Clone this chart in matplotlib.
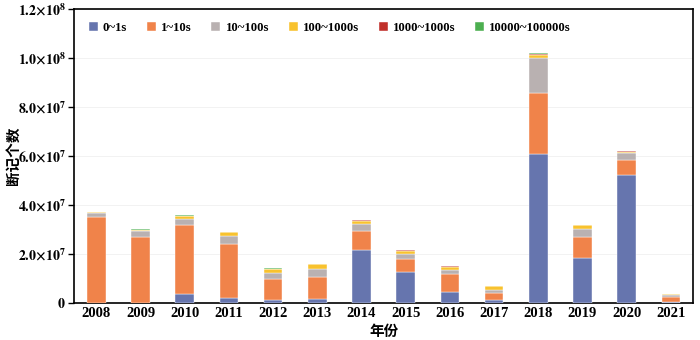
import numpy as np
import matplotlib
matplotlib.use('Agg')
import matplotlib.pyplot as plt
from matplotlib.ticker import FuncFormatter

plt.rcParams['font.family'] = ['Liberation Serif', 'Noto Sans CJK SC', 'DejaVu Sans']
plt.rcParams['mathtext.fontset'] = 'stix'

years = ['2008', '2009', '2010', '2011', '2012', '2013', '2014',
         '2015', '2016', '2017', '2018', '2019', '2020', '2021']
series_names = ['0~1s', '1~10s', '10~100s', '100~1000s', '1000~1000s', '10000~100000s']

# 单位: 1e6
s_0_1 = [0.1, 0.1, 3.5, 2.2, 1.35, 1.6, 21.6, 12.7, 4.4, 1.2, 60.7, 18.5, 52.4, 0.4]
s_1_10 = [34.9, 27.0, 28.3, 21.9, 8.4, 9.1, 7.8, 5.3, 7.4, 2.8, 24.9, 8.6, 6.0, 2.2]
s_10_100 = [1.6, 2.3, 2.4, 3.4, 2.4, 3.1, 2.9, 1.8, 1.6, 1.4, 14.5, 3.1, 2.7, 0.6]
s_100_1000 = [0.4, 0.5, 1.3, 1.3, 1.8, 1.9, 1.3, 1.5, 1.4, 1.4, 1.1, 1.4, 0.6, 0.4]
s_1000_10000 = [0.05, 0.05, 0.1, 0.05, 0.05, 0.05, 0.1, 0.1, 0.1, 0.1, 0.4, 0.1, 0.1, 0.05]
s_10000_100000 = [0.1, 0.2, 0.3, 0.1, 0.1, 0.1, 0.2, 0.1, 0.1, 0.1, 0.2, 0.1, 0.1, 0.05]

colors = ['#6675ae', '#f0834a', '#b9b1b1', '#f8c22e', '#c0302a', '#4caf50']

data = [s_0_1, s_1_10, s_10_100, s_100_1000, s_1000_10000, s_10000_100000]

fig = plt.figure(figsize=(7, 3.4), dpi=100)
ax = fig.add_axes([0.106, 0.109, 0.884, 0.865])

x = np.arange(len(years))
bottom = np.zeros(len(years))
for vals, name, c in zip(data, series_names, colors):
    v = np.array(vals) * 1e6
    ax.bar(x, v, width=0.42, bottom=bottom, color=c, label=name,
           edgecolor='white', linewidth=0.3, zorder=3)
    bottom += v

ax.set_xlim(-0.5, len(years) - 0.5)
ax.set_ylim(0, 1.2e8)
ax.set_yticks(np.arange(0, 1.21e8, 2e7))


def fmt(v, pos):
    if v == 0:
        return r'$\mathbf{0}$'
    e = int(np.floor(np.log10(v)))
    return r'$\mathbf{%.1f{\times}10^{%d}}$' % (v / 10 ** e, e)


ax.yaxis.set_major_formatter(FuncFormatter(fmt))
ax.set_xticks(x)
ax.set_xticklabels(years)
ax.tick_params(axis='x', length=0, labelsize=10.5, pad=3)
ax.tick_params(axis='y', direction='out', length=4, width=1, labelsize=10, pad=2)
for lab in ax.get_xticklabels():
    lab.set_fontweight('bold')

ax.grid(axis='y', color='#f0f0f0', linewidth=0.6, zorder=0)
for sp in ax.spines.values():
    sp.set_linewidth(1.2)

ax.set_xlabel('年份', family=['Noto Sans CJK SC'], fontsize=10.5, fontweight='bold', labelpad=2)
ax.set_ylabel('断记个数', family=['Noto Sans CJK SC'], fontsize=10.5, fontweight='bold')
ax.yaxis.set_label_coords(-0.087, 0.5)

leg = ax.legend(loc='upper left', bbox_to_anchor=(0.005, 0.995), ncol=6, frameon=False,
                handlelength=0.7, handleheight=0.7, handletextpad=0.4,
                columnspacing=1.55, prop={'family': 'Liberation Serif', 'weight': 'bold', 'size': 9.2})

fig.savefig('out.png', dpi=100)
